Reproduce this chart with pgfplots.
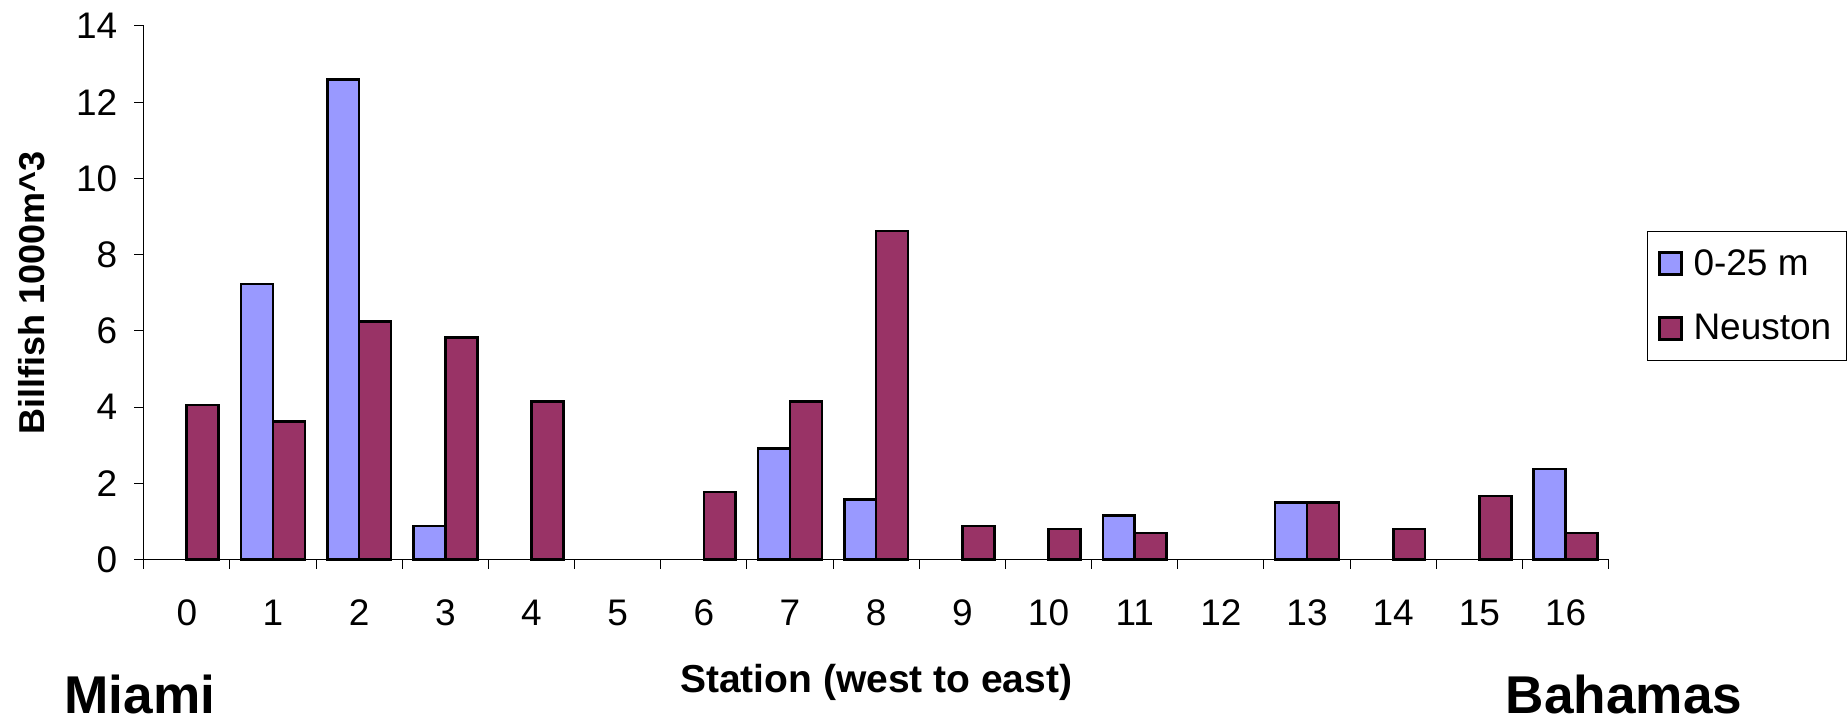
\documentclass[border=0pt]{standalone}
\usepackage{fontspec}
\setmainfont{Liberation Sans}
\usepackage{pgfplots}
\pgfplotsset{compat=1.18}
\definecolor{cblue}{HTML}{9999FF}
\definecolor{cred}{HTML}{993366}
\begin{document}
\begin{tikzpicture}
\begin{axis}[
 scale only axis, width=732.7pt, height=266.9pt,
 xmin=-0.5, xmax=16.5, ymin=0, ymax=14,
 axis x line*=bottom, axis y line*=left,
 clip=false,
 ybar=0pt, bar width=0.37,
 xtick={0,...,16}, minor xtick={-0.5,0.5,...,16.5},
 ytick={0,2,...,14},
 tick align=outside,
 major tick length=4.7pt, minor tick length=4.7pt,
 major x tick style={draw=none},
 every tick/.style={black, line width=0.5pt},
 minor tick style={black, line width=0.5pt},
 axis line style={black, line width=0.5pt},
 /pgf/number format/assume math mode=true,
 ticklabel style={font=\fontsize{18.5}{21}\selectfont},
 xticklabel style={yshift=-12pt},
 yticklabel style={xshift=-5pt},
 ylabel={Billfish 1000m\^{}3},
 ylabel style={at={(rel axis cs:-0.0762,0.5)}, anchor=center, font=\fontsize{18}{21}\selectfont\bfseries},
 xlabel={Station (west to east)},
 xlabel style={at={(rel axis cs:0.5,-0.250)}, anchor=base, font=\fontsize{19.5}{22}\selectfont\bfseries},
 legend style={at={(rel axis cs:1.026,0.616)}, anchor=north west, draw=black, line width=0.5pt,
   font=\fontsize{18.5}{21}\selectfont, row sep=14pt, inner xsep=5.5pt, inner ysep=7pt, cells={anchor=west}},
 legend image code/.code={\draw[#1, line width=1.3pt, draw=black] (0pt,-5.5pt) rectangle (11pt,5.5pt);
   \path[draw=none, fill=none] (0pt,0pt) rectangle (15pt,0.1pt);},
]
\addplot[fill=cblue, draw=black, line width=1.3pt] coordinates {(1,7.23) (2,12.6) (3,0.88) (7,2.91) (8,1.57) (11,1.16) (13,1.50) (16,2.37)};
\addplot[fill=cred, draw=black, line width=1.3pt] coordinates {(0,4.05) (1,3.62) (2,6.25) (3,5.82) (4,4.15) (6,1.77) (7,4.15) (8,8.62) (9,0.88) (10,0.80) (11,0.70) (13,1.50) (14,0.80) (15,1.67) (16,0.70)};
\legend{0-25 m, Neuston}
\node[font=\fontsize{26.6}{30}\selectfont\bfseries, anchor=base, inner sep=0pt] at (rel axis cs:-0.0025,-0.289) {Miami};
\node[font=\fontsize{26.6}{30}\selectfont\bfseries, anchor=base, inner sep=0pt] at (rel axis cs:1.0105,-0.289) {Bahamas};
\path (rel axis cs:-0.0981,-0.306) rectangle (rel axis cs:1.1627,1.0485);
\end{axis}
\end{tikzpicture}
\end{document}
